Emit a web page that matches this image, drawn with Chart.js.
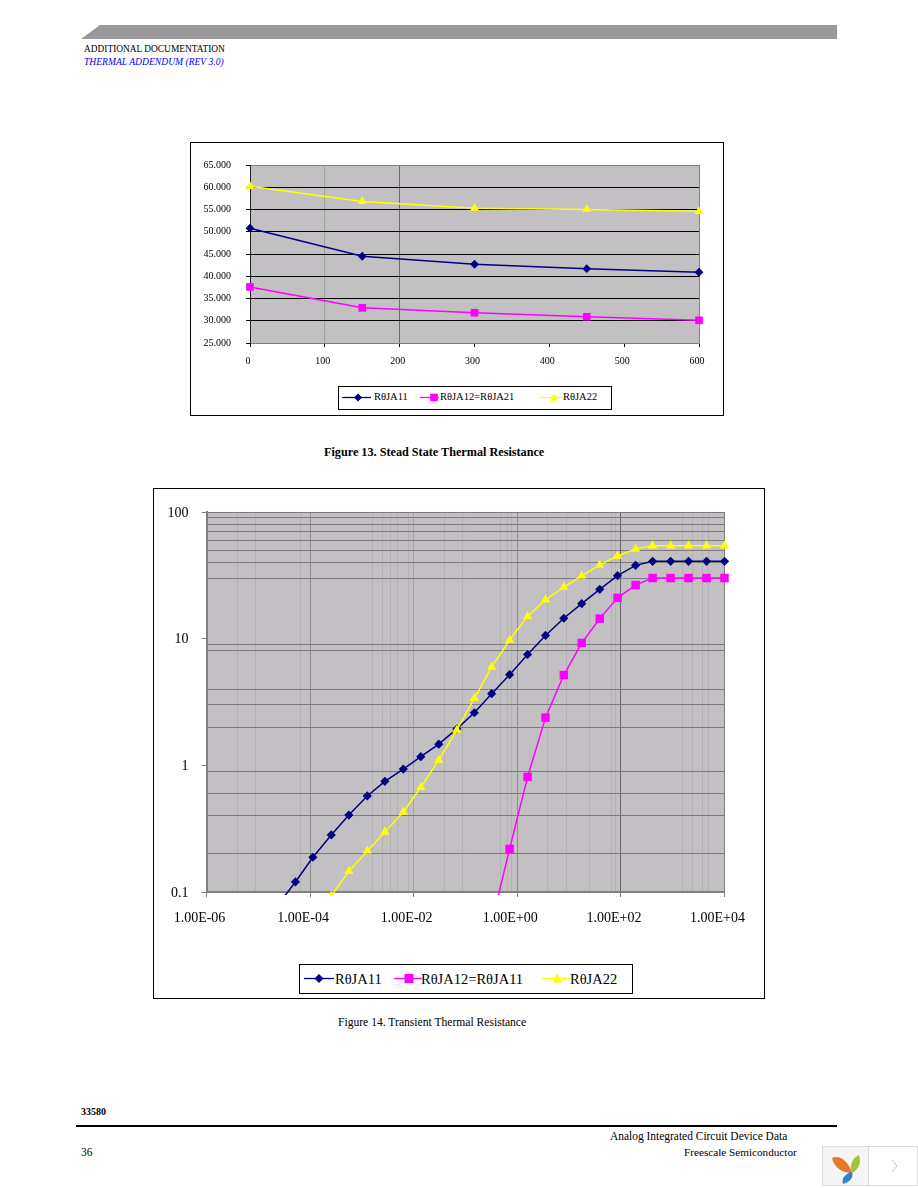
<!DOCTYPE html>
<html>
<head>
<meta charset="utf-8">
<title>Thermal Addendum</title>
<script src="https://cdn.jsdelivr.net/npm/chart.js@4"></script>
<style>
  html, body { margin: 0; padding: 0; background: #fff; }
  body { position: relative; width: 918px; height: 1188px; overflow: hidden; font-family: "Liberation Serif", serif; color: #000; }
  .txt { position: absolute; white-space: nowrap; line-height: 1; }
  .frame { position: absolute; box-sizing: border-box; border: 1px solid #000; }
  canvas { position: absolute; }
  .legend { position: absolute; box-sizing: border-box; border: 1px solid #000; background: #fff; }
  .legend svg { position: absolute; left: 0; top: 0; }
  .legend span { position: absolute; white-space: nowrap; line-height: 1; }
  #band { position: absolute; left: 81px; top: 25px; width: 756px; height: 14px; background: #999799; clip-path: polygon(19px 0, 100% 0, 100% 100%, 0 100%); }
  #rule { position: absolute; left: 76px; top: 1125px; width: 761px; height: 2px; background: #000; }
  #widget { position: absolute; left: 822px; top: 1146px; width: 96px; height: 40px; }
</style>
</head>
<body>
<div id="band"></div>
<div class="txt" style="left:84px;top:45px;font-size:9.4px">ADDITIONAL DOCUMENTATION</div>
<div class="txt" style="left:84px;top:57px;font-size:9.6px;font-style:italic;color:#0000ff">THERMAL ADDENDUM (REV 3.0)</div>

<div class="frame" style="left:190px;top:142px;width:534px;height:274px"></div>
<canvas id="steady"></canvas>
<div class="legend" id="legendSteady" style="left:338px;top:386px;width:274px;height:24px"></div>
<div class="txt" style="left:324px;top:446px;font-size:12.2px;font-weight:bold">Figure 13. Stead State Thermal Resistance</div>

<div class="frame" style="left:153px;top:488px;width:612px;height:511px"></div>
<canvas id="transient"></canvas>
<div class="legend" id="legendTransient" style="left:299px;top:964px;width:334px;height:30px"></div>
<div class="txt" style="left:338px;top:1017px;font-size:11.6px">Figure 14. Transient Thermal Resistance</div>

<div class="txt" style="left:81px;top:1107px;font-size:10px;font-weight:bold">33580</div>
<div id="rule"></div>
<div class="txt" style="left:610px;top:1131px;font-size:11.45px">Analog Integrated Circuit Device Data</div>
<div class="txt" style="left:81px;top:1147px;font-size:11.5px">36</div>
<div class="txt" style="left:684px;top:1147px;font-size:11.2px">Freescale Semiconductor</div>
<svg id="widget" viewBox="0 0 96 40">
  <rect x="0.5" y="0.5" width="95" height="39" fill="#fff" stroke="#dcdcdc"/>
  <rect x="1" y="1" width="45" height="38" fill="#f5f5f5"/>
  <line x1="46.5" y1="0" x2="46.5" y2="40" stroke="#dcdcdc"/>
  <path d="M10 12 C18 8 27 16 30 27 C20 27 12 21 10 12Z" fill="#e9772a"/>
  <path d="M37 9 C40 17 36 24 30 27 C27 20 30 12 37 9Z" fill="#a4c339"/>
  <path d="M30 26 C32 31 28 36 21 38 C19 32 24 27 30 26Z" fill="#2b86d0"/>
  <polyline points="70,14 75,20 70,26" fill="none" stroke="#c4c4c4"/>
</svg>

<script>
// Figure 13
const powerLabels = [0, 150, 300, 450, 600];
const steadyA11 = [50.8, 44.5, 42.7, 41.7, 40.9];
const steadyA12 = [37.6, 32.9, 31.8, 30.9, 30.1];
const steadyA22 = [60.2, 56.8, 55.3, 55.0, 54.6];
const steadyNames = ['R\u03B8JA11', 'R\u03B8JA12=R\u03B8JA21', 'R\u03B8JA22'];

// Figure 14
const timeA11 = [2.39e-5, 5.2e-5, 1.13e-4, 2.56e-4, 5.6e-4, 1.27e-3, 2.77e-3, 6.3e-3, 1.37e-2, 3.05e-2, 6.8e-2, 0.148, 0.32, 0.71, 1.58, 3.5, 7.9, 17.5, 39, 86, 192, 409, 910, 2020, 4500, 10000];
const transientA11 = [0.079, 0.12, 0.188, 0.282, 0.405, 0.573, 0.748, 0.935, 1.17, 1.47, 1.94, 2.6, 3.68, 5.2, 7.5, 10.6, 14.5, 18.9, 24.5, 31.4, 37.9, 40.8, 40.8, 40.8, 40.8, 40.8];
const transientA12 = [null, null, null, null, null, null, null, null, null, null, null, null, 0.057, 0.219, 0.81, 2.38, 5.16, 9.25, 14.4, 21, 26.5, 30.1, 30.1, 30.1, 30.1, 30.1];
const transientA22 = [null, null, null, 0.093, 0.146, 0.211, 0.298, 0.428, 0.671, 1.10, 1.90, 3.38, 5.97, 9.75, 15, 20.3, 25.5, 31.3, 38.2, 45, 51, 54.2, 54.2, 54.2, 54.2, 54.2];
const transientNames = ['R\u03B8JA11', 'R\u03B8JA12=R\u03B8JA11', 'R\u03B8JA22'];

// axis ticks of figure 14 and the grid lines that survive in the scan
const xMajor = [1e-6, 1e-4, 1e-2, 1, 100, 1e4];
const xLabels = ['1.00E-06', '1.00E-04', '1.00E-02', '1.00E+00', '1.00E+02', '1.00E+04'];
const xMinor = [4.05e-6, 9e-6, 6.4e-5, 1.63e-3, 2.5e-3, 3.6e-3, 4.9e-3, 8.1e-3, 4e-2, 8.9e-2, 0.48, 0.65, 0.78, 3.9, 8.9, 25, 66, 79, 1550, 2400, 3770, 4900];
const yMajor = [0.1, 1, 10, 100];
const yMinor = [0.2, 0.4, 0.6, 0.9, 2, 3, 4, 8, 9, 30, 40, 50, 60, 70, 80, 90];

const NAVY = '#000080', PINK = '#ff00ff', YELLOW = '#ffff00';
const PLOT_BG = '#c3c0c3';
const SERIF = 'Liberation Serif';

const plotBackground = {
  id: 'plotBackground',
  beforeDraw(chart) {
    const a = chart.chartArea;
    chart.ctx.save();
    chart.ctx.fillStyle = PLOT_BG;
    chart.ctx.fillRect(a.left, a.top, a.right - a.left, a.bottom - a.top);
    chart.ctx.restore();
  }
};

function series(label, data, color, style, radius, order, lineWidth, clip) {
  return {
    label, data, order, clip, pointStyle: style, pointRadius: radius,
    borderColor: color, borderWidth: lineWidth, tension: 0, spanGaps: false,
    pointBackgroundColor: color, pointBorderColor: color, pointBorderWidth: 0
  };
}

function makeChart(id, left, top, width, height, area, config) {
  const canvas = document.getElementById(id);
  canvas.width = width;
  canvas.height = height;
  canvas.style.left = left + 'px';
  canvas.style.top = top + 'px';
  canvas.style.width = width + 'px';
  canvas.style.height = height + 'px';
  config.options.responsive = false;
  config.options.animation = false;
  config.options.devicePixelRatio = 1;
  config.options.events = [];
  config.options.layout = { autoPadding: false, padding: { left: 0, top: area.top, right: width - area.right, bottom: 0 } };
  config.options.plugins = { legend: { display: false }, tooltip: { enabled: false } };
  config.options.scales.x.afterFit = s => { s.height = height - area.bottom; };
  config.options.scales.y.afterFit = s => { s.width = area.left; };
  config.plugins = [plotBackground];
  return new Chart(canvas, config);
}

const noClip = { left: false, top: false, right: false, bottom: false };

makeChart('steady', 190, 142, 534, 274, { left: 60, right: 509, top: 23, bottom: 201 }, {
  type: 'line',
  data: {
    datasets: [
      series(steadyNames[0], powerLabels.map((x, i) => ({ x, y: steadyA11[i] })), NAVY, 'rectRot', 4.4, 3, 1.5, noClip),
      series(steadyNames[1], powerLabels.map((x, i) => ({ x, y: steadyA12[i] })), PINK, 'rect', 5.4, 2, 1.5, noClip),
      series(steadyNames[2], powerLabels.map((x, i) => ({ x, y: steadyA22[i] })), YELLOW, 'triangle', 5.2, 1, 1.5, noClip)
    ]
  },
  options: {
    scales: {
      x: {
        type: 'linear', min: 0, max: 600,
        grid: {
          lineWidth: 1, tickLength: 4, tickColor: '#000',
          color: c => c.tick.value === 100 ? '#a0a0a0' : c.tick.value === 200 ? '#6c6c6c' : c.tick.value === 600 ? '#808080' : 'transparent'
        },
        border: { color: '#808080', width: 1 },
        ticks: { stepSize: 100, maxRotation: 0, labelOffset: -2, padding: 8, color: '#000', font: { family: SERIF, size: 10 } }
      },
      y: {
        min: 25, max: 65,
        grid: {
          lineWidth: 1, tickLength: 4, tickColor: '#000',
          color: c => (c.tick.value === 65 || c.tick.value === 25) ? '#808080' : '#000'
        },
        border: { color: '#222', width: 1 },
        ticks: { stepSize: 5, padding: 15, color: '#000', font: { family: SERIF, size: 10 }, callback: v => v.toFixed(3) }
      }
    }
  }
});

function isIn(list, v) {
  return list.some(t => Math.abs(t - v) / t < 0.001);
}

function xGridColor(v) {
  if (isIn([1e-4, 1], v)) return '#8e8c8e';
  if (isIn([100], v)) return '#686668';
  if (isIn([1e4], v)) return '#808080';
  if (isIn([1e-2], v)) return '#a4a2a4';
  if (isIn([1e-6], v)) return 'transparent';
  return '#b3b1b3';
}

const bottomClip = { left: false, top: false, right: false, bottom: 3 };

makeChart('transient', 153, 488, 612, 511, { left: 53.5, right: 572, top: 24, bottom: 404 }, {
  type: 'line',
  data: {
    datasets: [
      series(transientNames[0], timeA11.map((x, i) => ({ x, y: transientA11[i] })), NAVY, 'rectRot', 4.6, 3, 1.5, bottomClip),
      series(transientNames[1], timeA11.map((x, i) => ({ x, y: transientA12[i] })), PINK, 'rect', 6, 2, 1.5, bottomClip),
      series(transientNames[2], timeA11.map((x, i) => ({ x, y: transientA22[i] })), YELLOW, 'triangle', 5.4, 1, 1.5, bottomClip)
    ]
  },
  options: {
    scales: {
      x: {
        type: 'logarithmic', min: 1e-6, max: 1e4,
        afterBuildTicks: s => { s.ticks = xMajor.concat(xMinor).sort((a, b) => a - b).map(value => ({ value })); },
        grid: {
          lineWidth: 1, tickLength: 5,
          color: c => xGridColor(c.tick.value),
          tickColor: c => isIn(xMajor, c.tick.value) ? '#808080' : 'transparent'
        },
        border: { color: '#808080', width: 2 },
        ticks: {
          autoSkip: false, maxRotation: 0, minRotation: 0, labelOffset: -7, padding: 13, color: '#000',
          font: { family: SERIF, size: 14 },
          callback: v => { const i = xMajor.findIndex(t => Math.abs(t - v) / t < 0.001); return i < 0 ? '' : xLabels[i]; }
        }
      },
      y: {
        type: 'logarithmic', min: 0.1, max: 100,
        afterBuildTicks: s => { s.ticks = yMajor.concat(yMinor).sort((a, b) => a - b).map(value => ({ value })); },
        grid: {
          lineWidth: 1, tickLength: 5,
          color: c => isIn(yMinor, c.tick.value) || c.tick.value === 100 || c.tick.value === 0.1 ? '#7c7a7c' : 'transparent',
          tickColor: c => isIn(yMajor, c.tick.value) ? '#808080' : 'transparent'
        },
        border: { color: '#808080', width: 2 },
        ticks: {
          autoSkip: false, padding: 13, labelOffset: 1, color: '#000', font: { family: SERIF, size: 14 },
          callback: v => isIn(yMajor, v) ? String(v) : ''
        }
      }
    }
  }
});

function markerSvg(style, cx, cy, r, color) {
  if (style === 'rectRot') return `<polygon points="${cx},${cy - r} ${cx + r},${cy} ${cx},${cy + r} ${cx - r},${cy}" fill="${color}"/>`;
  if (style === 'rect') return `<rect x="${cx - r}" y="${cy - r}" width="${2 * r}" height="${2 * r}" fill="${color}"/>`;
  return `<polygon points="${cx},${cy - r} ${cx + r},${cy + r * 0.8} ${cx - r},${cy + r * 0.8}" fill="${color}"/>`;
}

// legend is plain html because the scan has a framed box with line and marker samples
function buildLegend(id, names, layout, fontSize, r) {
  const box = document.getElementById(id);
  const colors = [NAVY, PINK, YELLOW];
  const styles = ['rectRot', 'rect', 'triangle'];
  let svg = `<svg width="${box.offsetWidth}" height="${box.offsetHeight}">`;
  layout.forEach((l, i) => {
    svg += `<line x1="${l.lineFrom}" x2="${l.lineTo}" y1="${l.y}" y2="${l.y}" stroke="${colors[i]}" stroke-width="1.3"/>`;
    svg += markerSvg(styles[i], l.marker, l.y, r[i], colors[i]);
  });
  box.innerHTML = svg + '</svg>';
  layout.forEach((l, i) => {
    const s = document.createElement('span');
    s.textContent = names[i];
    s.style.left = l.text + 'px';
    s.style.top = l.textTop + 'px';
    s.style.fontSize = fontSize + 'px';
    box.appendChild(s);
  });
}

buildLegend('legendSteady', steadyNames, [
  { lineFrom: 3, lineTo: 32, marker: 19, y: 10.5, text: 35, textTop: 5 },
  { lineFrom: 81, lineTo: 100, marker: 95, y: 10.5, text: 101, textTop: 5 },
  { lineFrom: 200, lineTo: 228, marker: 215, y: 10.5, text: 224, textTop: 5 }
], 10.5, [4, 3.8, 4]);

buildLegend('legendTransient', transientNames, [
  { lineFrom: 4, lineTo: 34, marker: 19, y: 13.5, text: 35, textTop: 7 },
  { lineFrom: 94, lineTo: 122, marker: 109, y: 13.5, text: 121, textTop: 7 },
  { lineFrom: 242, lineTo: 272, marker: 257, y: 13.5, text: 270, textTop: 7 }
], 14.5, [4.5, 4.5, 5]);
</script>
</body>
</html>
